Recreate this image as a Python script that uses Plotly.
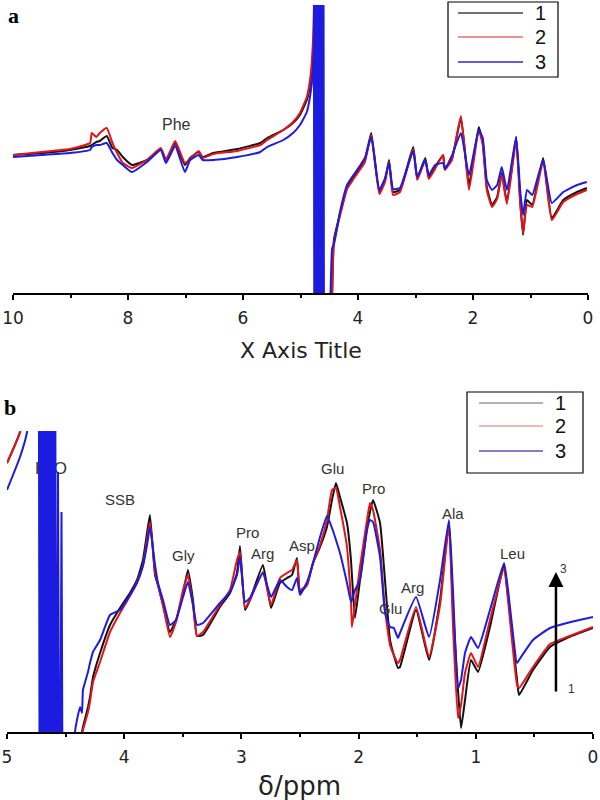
import plotly.graph_objects as go

# ---------------- Panel a data (ppm, intensity in arbitrary units) ----------------
a_ppm = [10.00, 9.50, 9.01, 8.66, 8.63, 8.55, 8.49, 8.37, 8.27, 8.19, 8.09, 7.93, 7.67, 7.43,
         7.34, 7.18, 7.01, 6.92, 6.77, 6.70, 6.52, 6.10, 5.70, 5.58, 5.30, 5.13, 5.01, 4.89,
         4.83, 4.78, 4.75, 4.72, 4.55, 4.45, 4.42, 4.31, 4.19, 4.09, 3.97, 3.88, 3.77, 3.63,
         3.53, 3.46, 3.39, 3.27, 3.04, 2.97, 2.83, 2.77, 2.66, 2.52, 2.49, 2.37, 2.21, 2.07,
         1.90, 1.83, 1.76, 1.67, 1.58, 1.50, 1.41, 1.25, 1.18, 1.13, 1.06, 0.97, 0.78, 0.63,
         0.43, 0.19, 0.02]
a_int_1 = [138, 140, 143, 147, 148, 151, 152, 157, 145, 143, 136, 128, 133, 144,
           133, 150, 128, 135, 141, 136, 140, 144, 150, 155, 163, 170, 178, 193,
           210, 243, 300, 400, -200, 0, 53, 80, 106, 115, 125, 133, 160, 101,
           113, 133, 101, 103, 146, 115, 135, 116, 126, 138, 125, 133, 175, 108,
           166, 150, 106, 88, 96, 120, 91, 156, 93, 58, 93, 88, 135, 75,
           93, 101, 105]
a_int_2 = [138, 141, 144, 150, 160, 156, 160, 165, 150, 140, 130, 125, 133, 145,
           133, 152, 130, 134, 142, 135, 139, 142, 148, 153, 163, 171, 180, 196,
           215, 255, 320, 400, -200, -5, 50, 78, 104, 113, 123, 131, 158, 99,
           111, 131, 98, 101, 144, 113, 133, 114, 124, 138, 123, 133, 177, 103,
           163, 148, 103, 86, 94, 118, 89, 152, 90, 60, 88, 86, 132, 73,
           91, 99, 103]
a_int_3 = [136, 138, 140, 143, 146, 148, 148, 150, 140, 133, 128, 121, 131, 143,
           130, 147, 121, 133, 138, 133, 133, 136, 141, 146, 153, 160, 168, 181,
           198, 223, 300, 400, -200, 45, 48, 82, 108, 117, 127, 135, 156, 103,
           115, 130, 104, 105, 142, 116, 133, 118, 128, 130, 124, 137, 160, 118,
           163, 155, 113, 103, 108, 126, 103, 156, 103, 78, 103, 98, 133, 90,
           101, 108, 111]
# solvent (H2O) signal of series 3, overflowing the scale
a_water_ppm = [4.77, 4.758, 4.746, 4.734, 4.722, 4.71, 4.698, 4.686, 4.674, 4.662,
               4.65, 4.638, 4.626, 4.614, 4.602, 4.59]
a_water_int = [450, -150, 450, -150, 450, -150, 450, -150, 450, -150,
               450, -150, 450, -150, 450, -150]

# ---------------- Panel b data ----------------
b_ppm = [5.000, 4.889, 4.829, 4.78, 4.74, 4.50, 4.420, 4.403, 4.377, 4.360, 4.352, 4.309,
         4.292, 4.266, 4.206, 4.121, 4.036, 3.951, 3.891, 3.840, 3.805, 3.780, 3.737, 3.712,
         3.669, 3.609, 3.558, 3.498, 3.456, 3.413, 3.379, 3.328, 3.183, 3.097, 3.038, 3.012,
         2.969, 2.927, 2.816, 2.747, 2.671, 2.611, 2.568, 2.526, 2.500, 2.440, 2.389, 2.329,
         2.270, 2.227, 2.193, 2.159, 2.099, 2.065, 2.057, 2.031, 1.988, 1.928, 1.903, 1.877,
         1.817, 1.775, 1.732, 1.700, 1.664, 1.647, 1.510, 1.399, 1.305, 1.229, 1.195, 1.152,
         1.126, 1.092, 1.041, 0.981, 0.879, 0.759, 0.725, 0.648, 0.631, 0.512, 0.367, 0.222,
         0.000]
b_int_1 = [269, 300, 360, 450, 600, -200, -20, -10, -5, 0, 5, 25,
           35, 55, 79, 107, 124, 139, 152, 172, 199, 217, 157, 147,
           127, 100, 112, 139, 162, 132, 96, 97, 125, 139, 159, 186,
           122, 132, 167, 124, 149, 154, 157, 174, 140, 147, 169, 185,
           205, 232, 249, 235, 209, 172, 157, 114, 152, 205, 220, 232,
           209, 152, 92, 77, 64, 65, 122, 72, 132, 210, 125, 42,
           4, 32, 72, 60, 105, 167, 135, 52, 37, 62, 85, 94,
           104]
b_int_2 = [269, 300, 360, 450, 600, -200, -30, -20, -10, -3, 2, 20,
           30, 50, 70, 100, 119, 136, 150, 167, 192, 210, 160, 147,
           127, 95, 110, 142, 157, 127, 96, 100, 127, 142, 172, 180,
           124, 132, 160, 127, 154, 159, 162, 172, 142, 147, 169, 187,
           212, 242, 244, 225, 185, 132, 105, 127, 165, 212, 229, 222,
           182, 122, 87, 77, 69, 72, 125, 75, 127, 207, 107, 14,
           27, 59, 79, 65, 112, 164, 132, 47, 44, 65, 88, 95,
           105]
b_int_3 = [242, 275, 300, 380, 600, -200, 0, 12, 25, 19, 42, 60,
           69, 80, 92, 117, 122, 137, 149, 166, 187, 205, 167, 149,
           132, 107, 112, 135, 150, 127, 107, 109, 129, 140, 157, 175,
           130, 134, 159, 135, 152, 145, 142, 154, 137, 150, 169, 195,
           216, 204, 192, 179, 149, 130, 132, 142, 152, 202, 212, 210,
           175, 120, 105, 104, 94, 99, 135, 95, 152, 212, 142, 44,
           52, 79, 95, 84, 122, 169, 142, 69, 72, 92, 104, 109,
           115]
b_water_ppm = [4.73, 4.72, 4.71, 4.70, 4.69, 4.68, 4.67, 4.66, 4.65, 4.64, 4.63, 4.62,
               4.61, 4.60, 4.59, 4.58, 4.565, 4.55, 4.535, 4.522]
b_water_int = [500, -200, 500, -200, 500, -200, 500, -200, 500, -200, 500, -200,
               500, -200, 500, -200, 260, -200, 220, -200]

series_names = ["1", "2", "3"]
line_colors = ["#111111", "#e3141a", "#1c1ce0"]
legend_a_colors = ["#444444", "#e07070", "#2a2ad0"]
legend_b_colors = ["#9a9a9a", "#e8a0a0", "#5555c0"]

# peak labels
a_labels = ["Phe"]
a_label_ppm = [7.148]
a_label_int = [168]
b_labels = ["SSB", "Gly", "Pro", "Arg", "Asp", "Glu", "Pro", "Glu", "Arg", "Ala", "Leu"]
b_label_ppm = [4.036, 3.498, 2.952, 2.816, 2.483, 2.227, 1.877, 1.732, 1.536, 1.195, 0.690]
b_label_int = [232, 177, 200, 179, 187, 263, 243, 124, 145, 219, 179]

W, H = 600, 800


def px(x):
    return x / W


def py(y):
    return 1 - y / H


fig = go.Figure()

# H2O label sits under the water signal in panel b
fig.add_trace(go.Scatter(x=[4.625], y=[262], mode="text", text=["H<sub>2</sub>O"],
                         textfont=dict(family="Liberation Sans", size=17, color="#333"),
                         xaxis="x2", yaxis="y2", showlegend=False, hoverinfo="skip"))

a_series = [a_int_1, a_int_2, a_int_3]
b_series = [b_int_1, b_int_2, b_int_3]
for name, col, ys in zip(series_names, line_colors, a_series):
    fig.add_trace(go.Scatter(x=a_ppm, y=ys, mode="lines",
                             line=dict(color=col, width=2, shape="spline", smoothing=0.4),
                             xaxis="x", yaxis="y", showlegend=False, name=name))
fig.add_trace(go.Scatter(x=a_water_ppm, y=a_water_int, mode="lines",
                         line=dict(color=line_colors[2], width=2),
                         xaxis="x", yaxis="y", showlegend=False))
for name, col, ys in zip(series_names, line_colors, b_series):
    fig.add_trace(go.Scatter(x=b_ppm, y=ys, mode="lines",
                             line=dict(color=col, width=2, shape="spline", smoothing=0.4),
                             xaxis="x2", yaxis="y2", showlegend=False, name=name))
fig.add_trace(go.Scatter(x=b_water_ppm, y=b_water_int, mode="lines",
                         line=dict(color=line_colors[2], width=2),
                         xaxis="x2", yaxis="y2", showlegend=False))

tick_font = dict(family="DejaVu Sans", size=17, color="#222")
axis_common = dict(showline=True, linecolor="black", linewidth=1.5, ticks="outside",
                   ticklen=5, tickcolor="black", tickwidth=1.5, showgrid=False,
                   zeroline=False, tickfont=tick_font, automargin=False,
                   ticklabelstandoff=4)

C = dict(xanchor="center", yanchor="middle", showarrow=False)

annotations = [
    dict(text="<b>a</b>", x=px(13), y=py(15), xref="paper", yref="paper",
         font=dict(family="Liberation Serif", size=22, color="black"), **C),
    dict(text="<b>b</b>", x=px(10), y=py(407), xref="paper", yref="paper",
         font=dict(family="Liberation Serif", size=22, color="black"), **C),
    dict(text="X Axis Title", x=px(301), y=py(350), xref="paper", yref="paper",
         font=dict(family="DejaVu Sans", size=22, color="#222"), **C),
    dict(text="δ/ppm", x=px(299), y=py(786), xref="paper", yref="paper",
         font=dict(family="DejaVu Sans", size=26, color="#222"), **C),
]
for t, xv, yv in zip(a_labels, a_label_ppm, a_label_int):
    annotations.append(dict(text=t, x=xv, y=yv, xref="x", yref="y",
                            font=dict(family="Liberation Sans", size=16, color="#333"), **C))
for t, xv, yv in zip(b_labels, b_label_ppm, b_label_int):
    annotations.append(dict(text=t, x=xv, y=yv, xref="x2", yref="y2",
                            font=dict(family="Liberation Sans", size=15, color="#333"), **C))
# trend arrow 1 -> 3
annotations.append(dict(x=0.316, y=160, ax=0.316, ay=39, xref="x2", yref="y2",
                        axref="x2", ayref="y2", showarrow=True, arrowhead=2,
                        arrowsize=1.2, arrowwidth=2.5, arrowcolor="black", text=""))
annotations.append(dict(text="3", x=0.255, y=163, xref="x2", yref="y2",
                        font=dict(family="Liberation Sans", size=12, color="#333"), **C))
annotations.append(dict(text="1", x=0.18, y=43, xref="x2", yref="y2",
                        font=dict(family="Liberation Sans", size=12, color="#333"), **C))

# hand-drawn legends (box, sample lines, labels)
shapes = []
legend_specs = [
    dict(box=(448, 2, 558, 77), rows=(13, 37, 62), line_x=(458, 523), label_x=540,
         colors=legend_a_colors),
    dict(box=(467, 392, 583, 473), rows=(403, 426, 451), line_x=(479, 543), label_x=560,
         colors=legend_b_colors),
]
for spec in legend_specs:
    x0, y0, x1, y1 = spec["box"]
    shapes.append(dict(type="rect", xref="paper", yref="paper", x0=px(x0), x1=px(x1),
                       y0=py(y1), y1=py(y0), line=dict(color="black", width=1.2),
                       fillcolor="white", layer="above"))
    for name, col, ry in zip(series_names, spec["colors"], spec["rows"]):
        shapes.append(dict(type="line", xref="paper", yref="paper",
                           x0=px(spec["line_x"][0]), x1=px(spec["line_x"][1]),
                           y0=py(ry), y1=py(ry), line=dict(color=col, width=1.5),
                           layer="above"))
        annotations.append(dict(text=name, x=px(spec["label_x"]), y=py(ry), xref="paper",
                                yref="paper",
                                font=dict(family="Liberation Sans", size=20, color="#111"),
                                **C))

fig.update_layout(
    width=W, height=H, margin=dict(l=0, r=0, t=0, b=0),
    paper_bgcolor="white", plot_bgcolor="white", showlegend=False,
    xaxis=dict(domain=[px(13), px(588)], range=[10, 0], anchor="y",
               tickvals=[10, 8, 6, 4, 2, 0], ticktext=["10", "8", "6", "4", "2", "0"],
               minor=dict(tickvals=[9, 7, 5, 3, 1], ticklen=3, ticks="outside",
                          tickcolor="black", tickwidth=1.5),
               **axis_common),
    yaxis=dict(domain=[py(293), py(5)], range=[0, 288], visible=False, anchor="x"),
    xaxis2=dict(domain=[px(7), px(593)], range=[5, 0], anchor="y2",
                tickvals=[5, 4, 3, 2, 1, 0], ticktext=["5", "4", "3", "2", "1", "0"],
                minor=dict(tickvals=[4.5, 3.5, 2.5, 1.5, 0.5], ticklen=3, ticks="outside",
                           tickcolor="black", tickwidth=1.5),
                **axis_common),
    yaxis2=dict(domain=[py(732), py(431)], range=[0, 301], visible=False, anchor="x2"),
    annotations=annotations,
    shapes=shapes,
)

fig.write_html("out.html", config={"displayModeBar": False},
               post_script="document.body.style.margin='0';")
